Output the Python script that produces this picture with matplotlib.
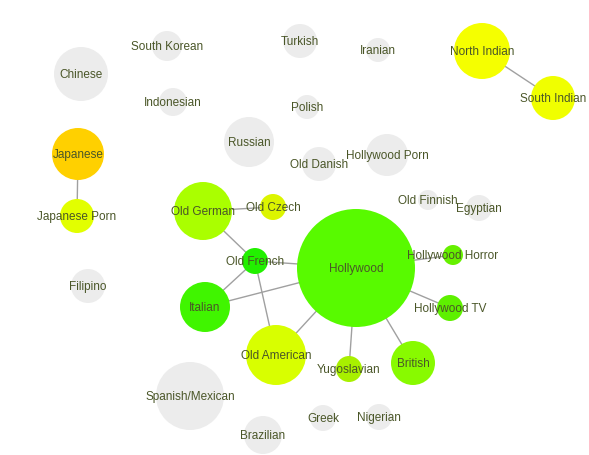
import matplotlib.pyplot as plt
from matplotlib.patches import Circle

# node names, sizes (radius) and fill colours
nodes = ['Chinese', 'South Korean', 'Indonesian', 'Russian', 'Japanese',
         'Japanese Porn', 'Old German', 'Old Czech', 'Turkish', 'Iranian',
         'North Indian', 'South Indian', 'Polish', 'Old Danish', 'Hollywood Porn',
         'Old Finnish', 'Egyptian', 'Hollywood', 'Old French', 'Italian',
         'Old American', 'Yugoslavian', 'British', 'Hollywood Horror',
         'Hollywood TV', 'Filipino', 'Spanish/Mexican', 'Brazilian', 'Greek',
         'Nigerian']
sizes = [27, 15, 14, 25, 26,
         17, 29, 13, 17, 12,
         28, 22, 12, 17, 21,
         10, 13, 59, 13, 25,
         30, 13, 22, 10,
         13, 17, 34, 19, 13,
         13]
colors = ['#ececec', '#ececec', '#ececec', '#ececec', '#ffd000',
          '#e2ff00', '#aaff00', '#dcf500', '#ececec', '#ececec',
          '#f5ff00', '#f0ff00', '#ececec', '#ececec', '#ececec',
          '#ececec', '#ececec', '#58fa00', '#22f000', '#40f500',
          '#d8ff00', '#a8f000', '#88fa00', '#66f000',
          '#5ef000', '#ececec', '#ececec', '#ececec', '#ececec',
          '#ececec']
edges = [('Japanese', 'Japanese Porn'), ('North Indian', 'South Indian'),
         ('Old German', 'Old Czech'), ('Old German', 'Old French'),
         ('Old French', 'Hollywood'), ('Old French', 'Italian'),
         ('Old French', 'Old American'), ('Italian', 'Hollywood'),
         ('Old American', 'Hollywood'), ('Hollywood', 'Yugoslavian'),
         ('Hollywood', 'British'), ('Hollywood', 'Hollywood Horror'),
         ('Hollywood', 'Hollywood TV')]

# layout from the force graph
layout = {
    'Chinese': (81, 74), 'South Korean': (167, 46), 'Indonesian': (173, 102),
    'Russian': (249, 142), 'Japanese': (78, 154), 'Japanese Porn': (77, 216),
    'Old German': (203, 211), 'Old Czech': (273, 207), 'Turkish': (300, 41),
    'Iranian': (378, 50), 'North Indian': (482, 51), 'South Indian': (553, 98),
    'Polish': (307, 107), 'Old Danish': (319, 164), 'Hollywood Porn': (387, 155),
    'Old Finnish': (428, 200), 'Egyptian': (479, 208), 'Hollywood': (356, 268),
    'Old French': (255, 261), 'Italian': (205, 307), 'Old American': (276, 355),
    'Yugoslavian': (349, 369), 'British': (413, 363), 'Hollywood Horror': (453, 255),
    'Hollywood TV': (450, 308), 'Filipino': (88, 286), 'Spanish/Mexican': (190, 396),
    'Brazilian': (263, 435), 'Greek': (323, 418), 'Nigerian': (379, 417),
}

plt.rcParams['font.family'] = ['Liberation Sans', 'DejaVu Sans']

fig = plt.figure(figsize=(5.89, 4.55), dpi=100)
ax = fig.add_axes([0, 0, 1, 1])
ax.set_xlim(0, 589)
ax.set_ylim(455, 0)
ax.set_aspect('equal')
ax.axis('off')

for a, b in edges:
    x0, y0 = layout[a]
    x1, y1 = layout[b]
    ax.plot([x0, x1], [y0, y1], color='#a0a0a0', lw=1, zorder=1)

for name, r, c in zip(nodes, sizes, colors):
    x, y = layout[name]
    ax.add_patch(Circle((x, y), r, facecolor=c, edgecolor='none', zorder=2))
    ax.text(x, y + 1, name, ha='center', va='center', fontsize=8.5,
            color='#4a5628', zorder=3)

fig.savefig('out.png', dpi=100)
